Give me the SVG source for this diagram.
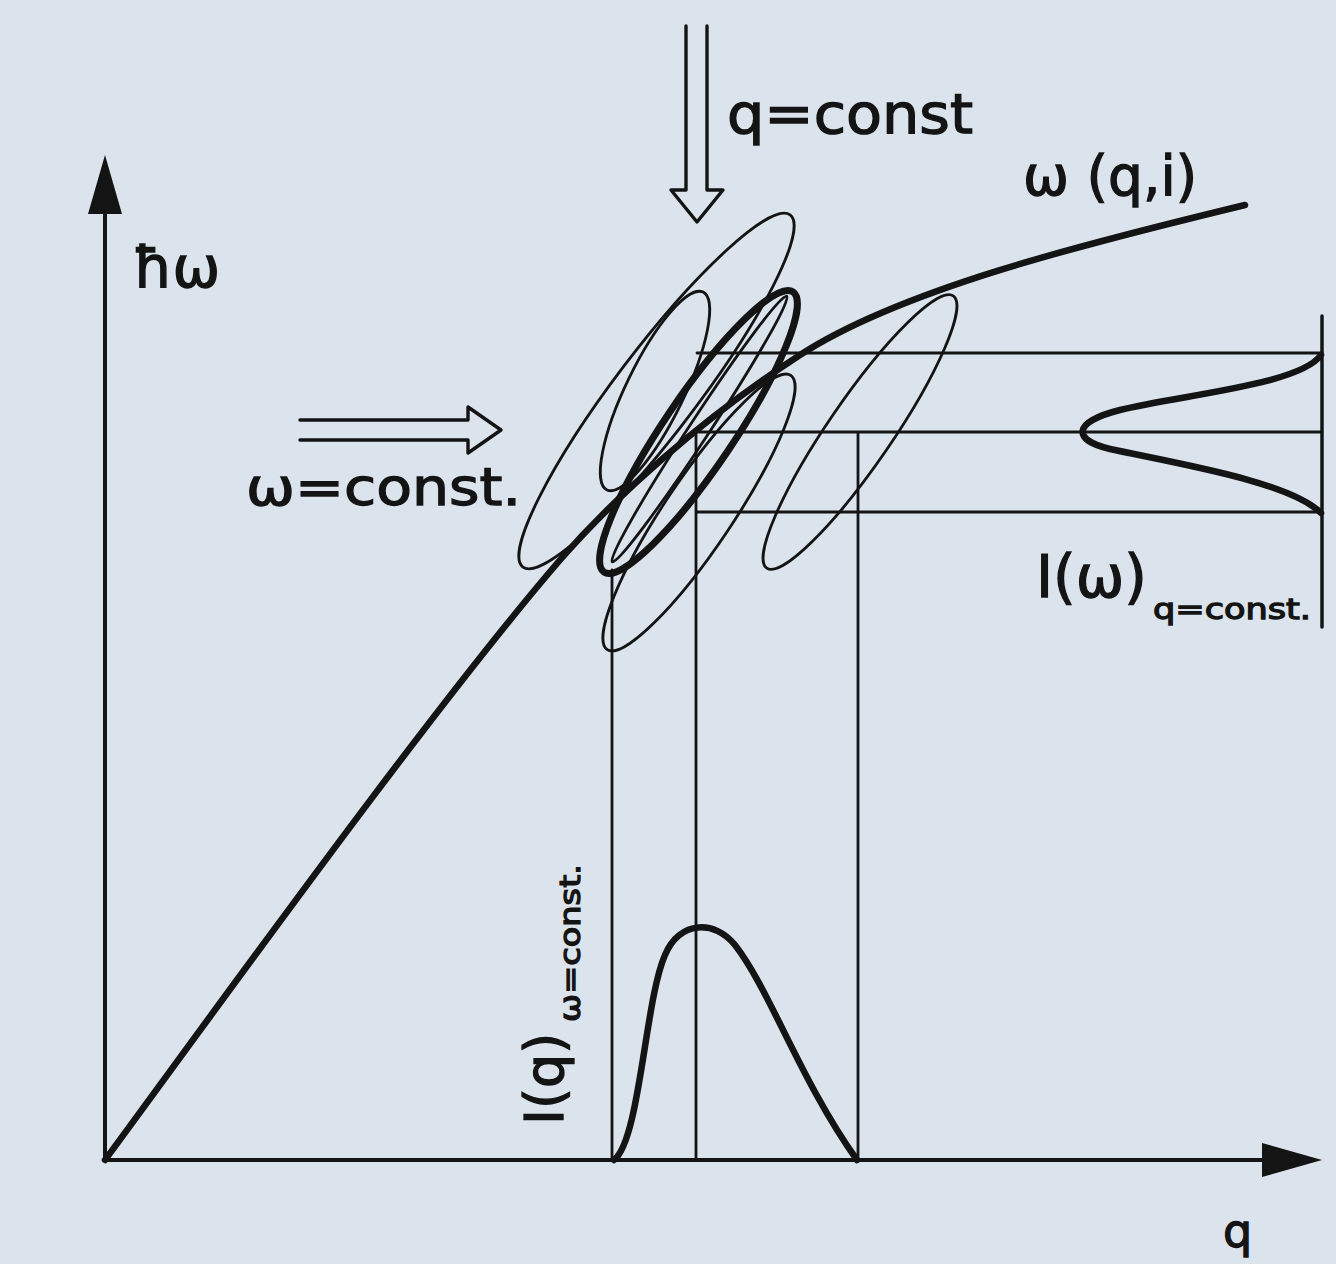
<svg xmlns="http://www.w3.org/2000/svg" width="1336" height="1264" viewBox="0 0 1336 1264">
<style>
.ln{fill:none;stroke:#141414;stroke-linecap:round;stroke-linejoin:round}
.thin{stroke-width:2.8}
.grid{stroke-width:2.8}
.thick{stroke-width:6.5}
.axis{stroke-width:4}
.t{font-family:"DejaVu Sans","Liberation Sans",sans-serif;fill:#141414;stroke:#141414;stroke-width:1.3}
</style>
<rect x="0" y="0" width="1336" height="1264" fill="#dbe4ec"/>
<g id="axes">
<line class="ln axis" x1="105" y1="1160" x2="105" y2="205"/>
<polygon points="105,155 88,214 122,214" fill="#141414"/>
<line class="ln axis" x1="105" y1="1160" x2="1270" y2="1160"/>
<polygon points="1322,1160 1262,1143 1262,1177" fill="#141414"/>
<text class="t" x="133" y="287" font-size="57">ħω</text>
<text class="t" x="1223" y="1247" font-size="46">q</text>
</g>
<g id="grid">
<line class="ln grid" x1="697" y1="353" x2="1322" y2="353"/>
<line class="ln grid" x1="699" y1="432" x2="1322" y2="432"/>
<line class="ln grid" x1="697" y1="512" x2="1322" y2="512"/>
<line class="ln grid" x1="612" y1="570" x2="612" y2="1160"/>
<line class="ln grid" x1="696" y1="432" x2="696" y2="1160"/>
<line class="ln grid" x1="858" y1="433" x2="858" y2="1160"/>
<line class="ln" stroke-width="3.5" x1="1322" y1="316" x2="1322" y2="627"/>
</g>
<g id="ellipses">
<ellipse class="ln thin" cx="656.5" cy="391" rx="221" ry="41" transform="rotate(-52.8 656.5 391)"/>
<ellipse class="ln thin" cx="655" cy="391" rx="110" ry="29" transform="rotate(-64.1 655 391)"/>
<ellipse class="ln thin" cx="699" cy="512.5" rx="165" ry="34" transform="rotate(-56.2 699 512.5)"/>
<ellipse class="ln thin" cx="860" cy="432" rx="165" ry="32" transform="rotate(-55.6 860 432)"/>
<ellipse class="ln thin" cx="699.5" cy="429" rx="159" ry="10" transform="rotate(-56.7 699.5 429)"/>
<ellipse class="ln" stroke-width="7" cx="698.5" cy="432" rx="169" ry="35" transform="rotate(-56 698.5 432)"/>
</g>
<g id="dispersion">
<path class="ln thick" d="M105,1160 C230,990 435,705 560,560 C615,497 700,420 800,355 C900,290 1080,245 1245,205"/>
<text class="t" x="1023" y="195" font-size="55">ω (q,i)</text>
</g>
<g id="I-omega">
<path class="ln thick" d="M1321,355 C1300,385 1180,395 1120,410 C1072,422 1072,440 1110,449 C1180,464 1290,482 1321,513"/>
<text class="t" x="1036" y="597" font-size="58">I(ω)</text>
<text class="t" x="1153" y="619" font-size="29" stroke-width="0.8" textLength="158" lengthAdjust="spacingAndGlyphs">q=const.</text>
</g>
<g id="I-q">
<path class="ln thick" d="M614,1160 C640,1140 645,1000 665,955 C680,920 715,920 735,945 C770,990 800,1080 857,1160"/>
<text class="t" transform="translate(563,1125) rotate(-90)" font-size="54">I(q)</text>
<text class="t" transform="translate(580,1022) rotate(-90)" font-size="29" stroke-width="0.8" textLength="158" lengthAdjust="spacingAndGlyphs">ω=const.</text>
</g>
<g id="arrow-q-const">
<path class="ln" stroke-width="3.4" d="M686,26 L686,190 L671,190 L697,222 L723,190 L707,190 L707,26"/>
<text class="t" x="727" y="133" font-size="56" textLength="246" lengthAdjust="spacingAndGlyphs">q=const</text>
</g>
<g id="arrow-omega-const">
<path class="ln" stroke-width="3.4" d="M300,420 L468,420 L468,407 L501,430 L468,453 L468,440 L300,440"/>
<text class="t" x="246" y="505" font-size="52" textLength="275" lengthAdjust="spacingAndGlyphs">ω=const.</text>
</g>
</svg>
